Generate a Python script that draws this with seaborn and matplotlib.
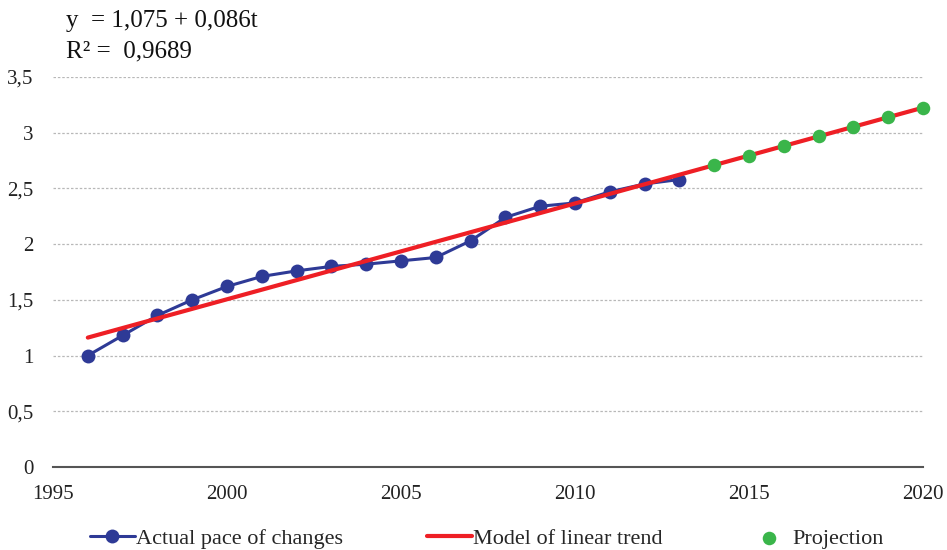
import matplotlib
matplotlib.use('Agg')
import numpy as np
import pandas as pd
import matplotlib.pyplot as plt
from matplotlib.ticker import FuncFormatter
import seaborn as sns

# values
years_actual = [1996, 1997, 1998, 1999, 2000, 2001, 2002, 2003, 2004,
                2005, 2006, 2007, 2008, 2009, 2010, 2011, 2012, 2013]
pace_actual = [1.00, 1.18, 1.36, 1.50, 1.62, 1.71, 1.76, 1.80, 1.82,
               1.85, 1.88, 2.03, 2.24, 2.34, 2.37, 2.47, 2.54, 2.58]
years_trend = [1996, 2020]
trend_values = [1.161, 3.225]
years_proj = [2014, 2015, 2016, 2017, 2018, 2019, 2020]
proj_values = [2.709, 2.795, 2.881, 2.967, 3.053, 3.139, 3.225]

x_ticks = [1995, 2000, 2005, 2010, 2015, 2020]
y_ticks = [0, 0.5, 1, 1.5, 2, 2.5, 3, 3.5]

BLUE = '#2e3a96'
RED = '#ee1f25'
GREEN = '#3ab54a'

sns.set_theme(style='white')
plt.rcParams['font.family'] = ['Liberation Serif', 'DejaVu Serif']

df_actual = pd.DataFrame({'year': years_actual, 'value': pace_actual})
df_trend = pd.DataFrame({'year': years_trend, 'value': trend_values})
df_proj = pd.DataFrame({'year': years_proj, 'value': proj_values})

fig = plt.figure(figsize=(9.47, 5.5), dpi=100)
ax = fig.add_axes([0.056, 0.151, 0.9187, 0.709])

sns.lineplot(data=df_actual, x='year', y='value', ax=ax, color=BLUE,
             linewidth=2.2, marker='o', markersize=10, markeredgewidth=0,
             label='Actual pace of changes', zorder=3)
sns.lineplot(data=df_trend, x='year', y='value', ax=ax, color=RED,
             linewidth=3, label='Model of linear trend', zorder=4)
sns.scatterplot(data=df_proj, x='year', y='value', ax=ax, color=GREEN,
                s=95, linewidth=0, label='Projection', zorder=5, clip_on=False)

ax.set_xlim(1995, 2020)
ax.set_ylim(0, 3.5)
ax.set_xticks(x_ticks)
ax.set_yticks(y_ticks)
ax.yaxis.set_major_formatter(FuncFormatter(lambda v, p: f'{v:g}'.replace('.', ',')))
ax.set_xlabel('')
ax.set_ylabel('')
ax.tick_params(axis='both', labelsize=15, length=0, colors='#222222')
ax.tick_params(axis='y', pad=14)
ax.tick_params(axis='x', pad=13)
ax.grid(axis='y', linestyle=(0, (2, 1.5)), color='#b8b8b8', linewidth=0.9)
for side in ['left', 'right', 'top']:
    ax.spines[side].set_visible(False)
ax.spines['bottom'].set_color('#555555')
ax.spines['bottom'].set_linewidth(1.5)

ax.get_legend().remove()
handles, labels = ax.get_legend_handles_labels()
fig.legend(handles, labels, loc='lower left', bbox_to_anchor=(0.074, -0.035),
           ncol=3, frameon=False, fontsize=16, handlelength=2.0,
           handletextpad=0.05, columnspacing=3.8)

# regression equation in the top-left corner
fig.text(0.07, 0.95, 'y  = 1,075 + 0,086t', fontsize=18, color='#111111')
fig.text(0.07, 0.895, 'R² =  0,9689', fontsize=18, color='#111111')

fig.savefig('out.png', dpi=100)
